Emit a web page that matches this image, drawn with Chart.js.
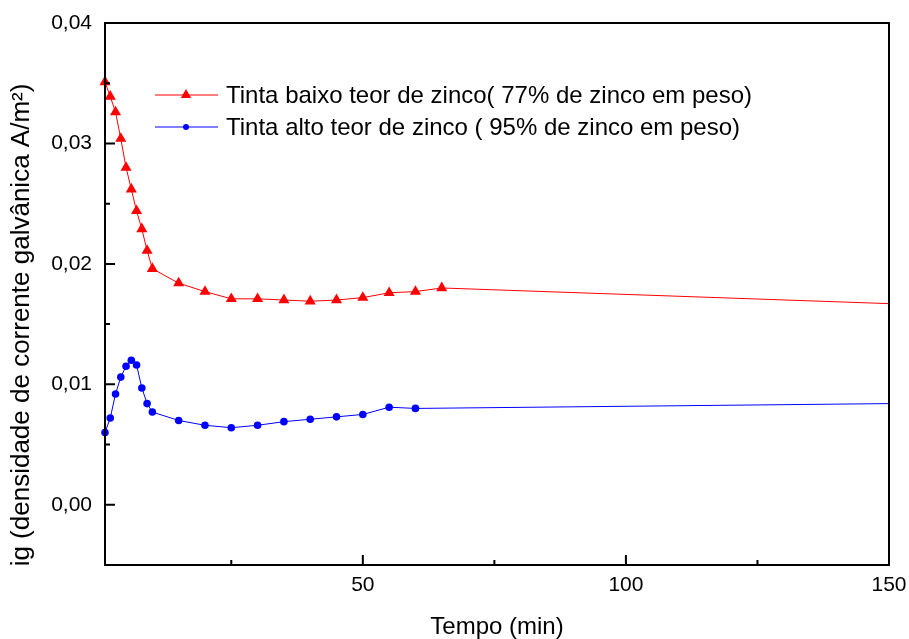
<!DOCTYPE html>
<html>
<head>
<meta charset="utf-8">
<script src="https://cdn.jsdelivr.net/npm/chart.js@4"></script>
<style>
  body { margin: 0; background: #fff; }
  canvas { display: block; }
</style>
</head>
<body>
<canvas id="chartZinco" width="909" height="639"></canvas>
<script>
// tempo (min)
const tempoBaixo = [1, 2, 3, 4, 5, 6, 7, 8, 9, 10, 15, 20, 25, 30, 35, 40, 45, 50, 55, 60, 65, 150]
const tempoAlto = [1, 2, 3, 4, 5, 6, 7, 8, 9, 10, 15, 20, 25, 30, 35, 40, 45, 50, 55, 60, 150]

// ig (A/m2)
const igBaixo = [0.0351, 0.0339, 0.0326, 0.0304, 0.0280, 0.0262, 0.0244, 0.0229, 0.0211, 0.0196,
    0.0184, 0.0177, 0.0171, 0.0171, 0.0170, 0.0169, 0.0170, 0.0172, 0.0176, 0.0177, 0.0180, 0.0167]
const igAlto = [0.0060, 0.0072, 0.0092, 0.0106, 0.0115, 0.0120, 0.0116, 0.0097, 0.0084, 0.0077,
    0.0070, 0.0066, 0.0064, 0.0066, 0.0069, 0.0071, 0.0073, 0.0075, 0.0081, 0.0080, 0.0084]

const labelBaixo = "Tinta baixo teor de zinco( 77% de zinco em peso)"
const labelAlto = "Tinta alto teor de zinco ( 95% de zinco em peso)"

const xMajor = [50, 100, 150]
const xMinor = [25, 75, 125]
const yMajor = [0.00, 0.01, 0.02, 0.03, 0.04]
const yMinor = [0.005, 0.015, 0.025, 0.035]

const FONT = "'Liberation Sans', Arial, sans-serif"

function toPoints(xs, ys) {
    return xs.map((x, i) => ({x: x, y: ys[i]}))
}

// last point (at 150) has no marker, only the line
function radii(n, r) {
    let arr = new Array(n).fill(r)
    arr[n - 1] = 0
    return arr
}

const moldura = {
    id: "moldura",
    afterDraw(chart) {
        const ctx = chart.ctx
        const a = chart.chartArea
        const xs = chart.scales.x
        const ys = chart.scales.y
        ctx.save()
        ctx.strokeStyle = "#000"
        ctx.lineWidth = 2
        ctx.strokeRect(a.left, a.top, a.right - a.left, a.bottom - a.top)

        // inward ticks
        ctx.beginPath()
        xMajor.forEach(v => { let p = xs.getPixelForValue(v); ctx.moveTo(p, a.bottom); ctx.lineTo(p, a.bottom - 10) })
        xMinor.forEach(v => { let p = xs.getPixelForValue(v); ctx.moveTo(p, a.bottom); ctx.lineTo(p, a.bottom - 5) })
        yMajor.forEach(v => { let p = ys.getPixelForValue(v); ctx.moveTo(a.left, p); ctx.lineTo(a.left + 10, p) })
        yMinor.forEach(v => { let p = ys.getPixelForValue(v); ctx.moveTo(a.left, p); ctx.lineTo(a.left + 5, p) })
        ctx.stroke()

        // axis titles
        ctx.fillStyle = "#000"
        ctx.textAlign = "center"
        ctx.textBaseline = "middle"
        ctx.font = "24px " + FONT
        ctx.fillText("Tempo (min)", (a.left + a.right) / 2, 627)
        ctx.font = "26px " + FONT
        ctx.translate(22, 325)
        ctx.rotate(-Math.PI / 2)
        ctx.fillText("ig (densidade de corrente galvânica A/m²)", 0, 0)
        ctx.restore()

        // legend inside the plot
        const itens = [
            {label: labelBaixo, color: "#ff0000", style: "triangle", r: 6, y: 95},
            {label: labelAlto, color: "#0000ff", style: "circle", r: 3, y: 127}
        ]
        ctx.save()
        itens.forEach(it => {
            ctx.strokeStyle = it.color
            ctx.lineWidth = 1
            ctx.beginPath()
            ctx.moveTo(155, it.y)
            ctx.lineTo(218, it.y)
            ctx.stroke()
            ctx.fillStyle = it.color
            Chart.helpers.drawPoint(ctx, {pointStyle: it.style, radius: it.r, borderWidth: 0}, 186, it.y)
            ctx.fillStyle = "#000"
            ctx.font = "24px " + FONT
            ctx.textAlign = "left"
            ctx.textBaseline = "middle"
            ctx.fillText(it.label, 226, it.y + 1)
        })
        ctx.restore()
    }
}

new Chart(document.getElementById("chartZinco"), {
    type: "line",
    data: {
        datasets: [{
            label: labelBaixo,
            data: toPoints(tempoBaixo, igBaixo),
            borderColor: "#ff0000",
            backgroundColor: "#ff0000",
            borderWidth: 1,
            pointStyle: "triangle",
            pointRadius: radii(tempoBaixo.length, 6.4),
            pointBorderWidth: 0,
            clip: false
        }, {
            label: labelAlto,
            data: toPoints(tempoAlto, igAlto),
            borderColor: "#0000ff",
            backgroundColor: "#0000ff",
            borderWidth: 1,
            pointStyle: "circle",
            pointRadius: radii(tempoAlto.length, 3.8),
            pointBorderWidth: 0,
            clip: false
        }]
    },
    options: {
        responsive: false,
        animation: false,
        layout: {padding: {left: 0, top: 23, right: 20, bottom: 0}},
        plugins: {legend: {display: false}, tooltip: {enabled: false}},
        scales: {
            x: {
                type: "linear",
                min: 1,
                max: 150,
                afterFit: s => { s.height = 74; s.paddingLeft = 0; s.paddingRight = 0 },
                afterBuildTicks: s => { s.ticks = xMajor.map(v => ({value: v})) },
                grid: {display: false, drawTicks: false},
                border: {display: false},
                ticks: {color: "#000", padding: 8, font: {family: FONT, size: 21}, maxRotation: 0}
            },
            y: {
                type: "linear",
                min: -0.005,
                max: 0.04,
                afterFit: s => { s.width = 105; s.paddingTop = 0; s.paddingBottom = 0 },
                afterBuildTicks: s => { s.ticks = yMajor.map(v => ({value: v})) },
                grid: {display: false, drawTicks: false},
                border: {display: false},
                ticks: {
                    color: "#000",
                    padding: 13,
                    font: {family: FONT, size: 21},
                    callback: v => v.toFixed(2).replace(".", ",")
                }
            }
        }
    },
    plugins: [moldura]
});
</script>
</body>
</html>
